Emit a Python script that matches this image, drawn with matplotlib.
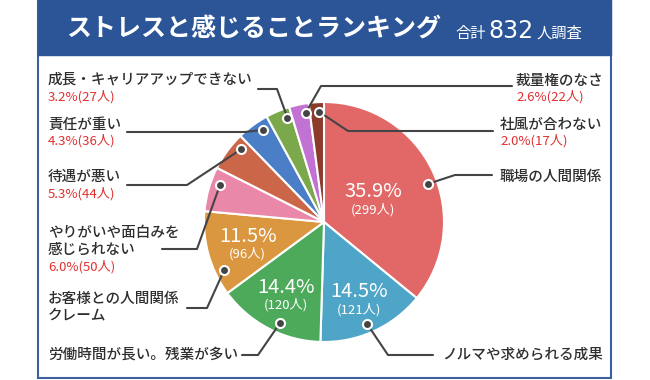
import numpy as np
import matplotlib.pyplot as plt
from matplotlib.patches import Rectangle

plt.rcParams['font.family'] = ['Noto Sans CJK JP', 'DejaVu Sans']

# data
labels = ['職場の人間関係', 'ノルマや求められる成果', '労働時間が長い。残業が多い',
          'お客様との人間関係\nクレーム', 'やりがいや面白みを\n感じられない', '待遇が悪い',
          '責任が重い', '成長・キャリアアップできない', '裁量権のなさ', '社風が合わない']
counts = [299, 121, 120, 96, 50, 44, 36, 27, 22, 17]
percents = [35.9, 14.5, 14.4, 11.5, 6.0, 5.3, 4.3, 3.2, 2.6, 2.0]
colors = ['#e26868', '#4fa5c8', '#4caa5a', '#da973f', '#ea88aa',
          '#cc6648', '#4a7fc8', '#7aa84a', '#c272d2', '#8c3b2b']
title = 'ストレスと感じることランキング'
total = 832

W, H = 650, 380
CX, CY, R = 324, 222, 120   # pie centre / radius in pixel coords (y from top)


def Y(yi):
    return H - yi


# label layout: name x, name y, red y (None = no red line), line start x, line y, elbow x, dot frac
layout = [
    (500, 177, None, 492, 175, 455, 0.54),
    (442, 355, None, 433, 355, 388, 0.53),
    (48, 355, None, 242, 355, 258, 0.42),
    (48, 307.5, None, 187, 308, 207, 0.26),
    (48, 241, 267, 162, 249, 197, 0.67),
    (48, 177, 194, 127, 185, 187, 0.75),
    (48, 125, 141, 127, 132, 245, 0.69),
    (48, 80, 97, 258, 89, 277, 0.79),
    (516, 81, 97, 512, 86, 321, 0.76),
    (500, 125, 141, 493, 131, 348, 0.65),
]
inner_r = [0.45, 0.70, 0.68, 0.66]

fig = plt.figure(figsize=(W / 100, H / 100), dpi=100)
ax = fig.add_axes([0, 0, 1, 1])
ax.set_xlim(0, W)
ax.set_ylim(0, H)

# frame + title bar
ax.add_patch(Rectangle((38, Y(378)), 573, 377, facecolor='white', edgecolor='#3b5fa0', lw=1.5, zorder=0))
ax.add_patch(Rectangle((38, Y(55)), 573, 55, facecolor='#2b5597', edgecolor='#2b5597', lw=1, zorder=1))
ax.text(66, Y(29), title, color='white', fontsize=18, fontweight='bold', ha='left', va='center')

# subtitle in three pieces (small kanji, big digits)
rend = fig.canvas.get_renderer()
x = 455
for part, size, fam in [('合計', 11, None), (str(total), 17, 'DejaVu Sans'), ('人調査', 11, None)]:
    t = ax.text(x, Y(38), part, color='white', fontsize=size, ha='left', va='baseline',
                family=fam if fam else plt.rcParams['font.family'])
    bb = t.get_window_extent(rend)
    x = bb.x1 + 3

wedges, _ = ax.pie(counts, colors=colors, startangle=90, counterclock=False,
                   center=(CX, Y(CY)), radius=R,
                   wedgeprops=dict(edgecolor='white', linewidth=1.5))

for i, w in enumerate(wedges):
    t1, t2 = w.theta1, w.theta2
    # inner percentages for the big slices
    if i < len(inner_r):
        mid = np.deg2rad((t1 + t2) / 2)
        px = CX + inner_r[i] * R * np.cos(mid)
        py = Y(CY) + inner_r[i] * R * np.sin(mid)
        ax.text(px, py + 7, f'{percents[i]}%', color='white', fontsize=14.5, ha='center', va='center')
        ax.text(px, py - 11, f'({counts[i]}人)', color='white', fontsize=9.5, ha='center', va='center')

    tx, ty, ry, lx, ly, ex, f = layout[i]
    ang = np.deg2rad(t2 - f * (t2 - t1))
    dx = CX + 0.92 * R * np.cos(ang)
    dy = Y(CY) + 0.92 * R * np.sin(ang)
    ax.plot([lx, ex, dx], [Y(ly), Y(ly), dy], color='#444444', lw=1.5, zorder=5,
            solid_capstyle='round')
    ax.plot(dx, dy, 'o', ms=6.5, color='#444444', mec='white', mew=1.5, zorder=6)

    ax.text(tx, Y(ty), labels[i], color='#2e2e2e', fontsize=10.5, fontweight='medium',
            ha='left', va='center', linespacing=1.25)
    if ry is not None:
        ax.text(tx, Y(ry), f'{percents[i]}%({counts[i]}人)', color='#e0302f',
                fontsize=9.5, ha='left', va='center')

ax.set_xlim(0, W)
ax.set_ylim(0, H)
ax.set_aspect('auto')
ax.axis('off')

fig.savefig('out.png', dpi=100)
